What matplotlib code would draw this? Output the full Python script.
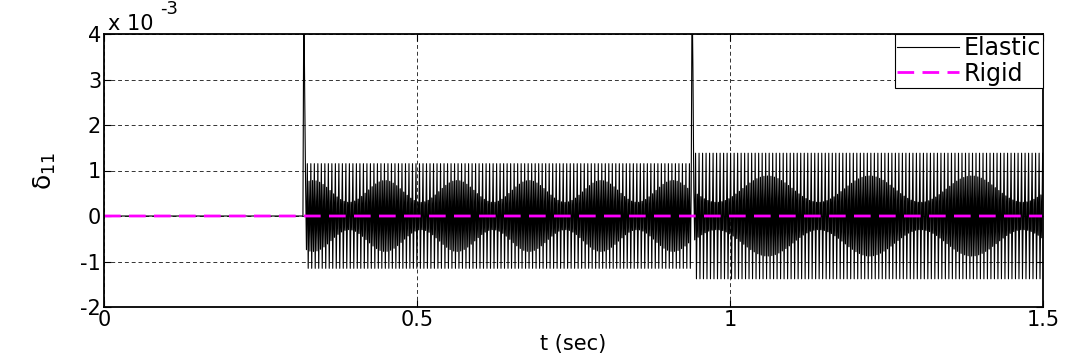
import numpy as np
import matplotlib.pyplot as plt
from matplotlib.ticker import FuncFormatter

plt.rcParams['font.family'] = ['DejaVu Sans']
plt.rcParams['mathtext.fontset'] = 'dejavusans'
plt.rcParams['mathtext.default'] = 'regular'

# ---------------------------------------------------
# Values
# ---------------------------------------------------
t_end = 1.5
cycle = 0.0056                      # period of the fast vibration (sec)
samples_per_cycle = 4
event_times = [0.318, 0.939]        # the two impacts (sec)
spike_peaks = [5.0e-3, 5.0e-3]      # go off the top of the axes
spike_after = [2.7e-3, 3.2e-3]      # second sample after each impact
outer_amp = [1.15e-3, 1.38e-3]      # flat outer envelope after each impact
inner_lo = [0.30e-3, 0.30e-3]       # narrowest inner (beating) band
inner_hi = [0.78e-3, 0.88e-3]       # widest inner band
beat_period = [0.115, 0.163]        # spacing of the inner lobes (sec)
beat_peak = [0.334, 1.060]          # time of one widest lobe (sec)

x_ticks = [0, 0.5, 1, 1.5]
y_ticks = [-2, -1, 0, 1, 2, 3, 4]   # x 10^-3

# ---------------------------------------------------
# Build the elastic response from the values above
# ---------------------------------------------------
dt = cycle / samples_per_cycle
t = np.arange(0, t_end + dt / 2, dt)
elastic = np.zeros_like(t)
bounds = event_times + [t_end + dt]
pattern_outer = np.array([1, -1, 0, 0])
pattern_inner = np.array([0, 0, 1, -1])
for i, te in enumerate(event_times):
    k = np.searchsorted(t, te)
    idx = np.where((t >= t[k]) & (t < bounds[i + 1]))[0]
    n = idx - k
    inner = inner_lo[i] + (inner_hi[i] - inner_lo[i]) * np.cos(np.pi * (t[idx] - beat_peak[i]) / beat_period[i]) ** 2
    elastic[idx] = outer_amp[i] * pattern_outer[n % 4] + inner * pattern_inner[n % 4]
    elastic[k] = spike_peaks[i]
    elastic[k + 1] = spike_after[i]

rigid = np.zeros_like(t)

# ---------------------------------------------------
# Plot
# ---------------------------------------------------
fig = plt.figure(figsize=(10.72, 3.64), dpi=100)
ax = fig.add_axes([104 / 1072, 1 - 307 / 364, (1043 - 104) / 1072, (307 - 34) / 364])

ax.plot(t, elastic, color='k', linewidth=0.8, label='Elastic')
ax.plot(t, rigid, color='#ff00ff', linewidth=2, linestyle=(0, (6, 3)), label='Rigid')

ax.set_xlim(0, 1.5)
ax.set_ylim(-2e-3, 4e-3)
ax.set_xticks(x_ticks)
ax.set_yticks([v * 1e-3 for v in y_ticks])
ax.xaxis.set_major_formatter(FuncFormatter(lambda v, _: f'{v:g}'))
ax.yaxis.set_major_formatter(FuncFormatter(lambda v, _: f'{round(v * 1e3):d}'))
ax.tick_params(direction='in', length=5, top=True, right=True, labelsize=15, pad=2)

ax.grid(True, linestyle=(0, (4, 3)), color='#333333', linewidth=0.7)
for s in ax.spines.values():
    s.set_linewidth(1.3)

# MATLAB-style exponent label above the y axis
ax.text(0.004, 1.0, 'x 10', transform=ax.transAxes, ha='left', va='bottom', fontsize=15)
ax.text(0.060, 1.06, '-3', transform=ax.transAxes, ha='left', va='bottom', fontsize=13)

ax.set_xlabel('t (sec)', fontsize=15, labelpad=3)
ax.set_ylabel(r'$\delta_{11}$', fontsize=18, labelpad=16)

leg = ax.legend(loc='upper right', fontsize=17, fancybox=False, framealpha=1,
                edgecolor='k', borderpad=0.1, labelspacing=0.05,
                handlelength=2.6, handletextpad=0.2, borderaxespad=0)
leg.get_frame().set_linewidth(0.8)

fig.savefig('out.png', dpi=100)
